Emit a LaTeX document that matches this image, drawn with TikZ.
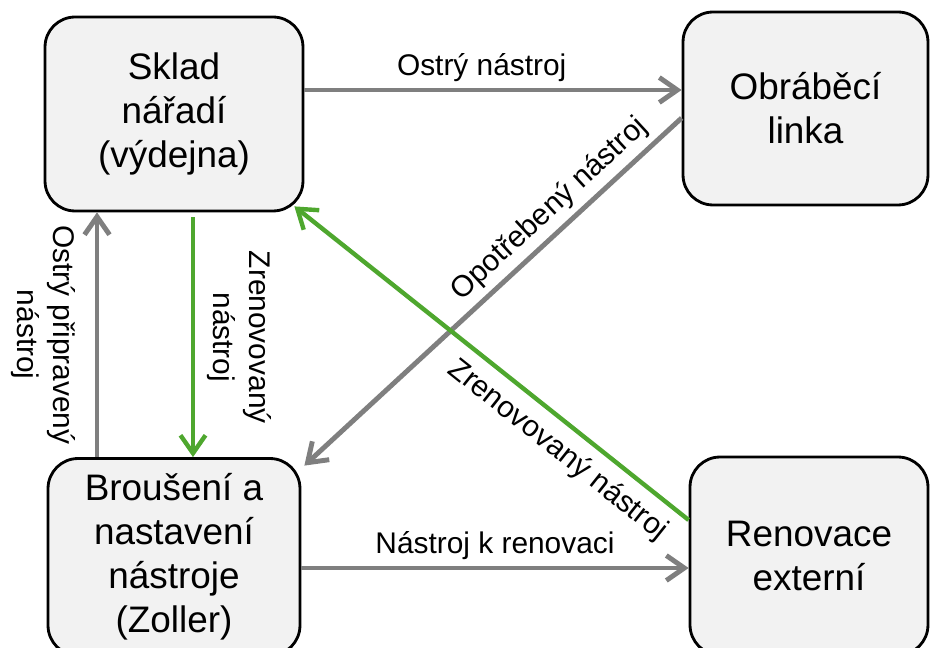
\documentclass[tikz,border=0pt]{standalone}
\usepackage{fontspec}
\setmainfont{Liberation Sans}
\usetikzlibrary{arrows.meta, positioning}

\definecolor{linegray}{RGB}{127,127,127}
\definecolor{linegreen}{RGB}{78,167,46}
\definecolor{boxfill}{RGB}{242,242,242}

\begin{document}
\begin{tikzpicture}[x=0.02cm, y=-0.02cm,
    box/.style={draw, line width=1.6pt, rounded corners=0.6cm, fill=boxfill, align=center, font=\fontsize{21}{25}\selectfont},
    lbl/.style={font=\fontsize{17}{20.5}\selectfont, align=center},
    arr/.style={-{Straight Barb[length=0.36cm, width=0.5cm]}, line width=2.8pt, draw=linegray},
    garr/.style={arr, draw=linegreen, line width=2.5pt}
]
\useasboundingbox (0,0) rectangle (934,648);
\clip (0,0) rectangle (934,648);

\node[box, minimum width=5.16cm, minimum height=3.88cm] (sklad) at (174,114) {Sklad\\nářadí\\(výdejna)};
\node[box, minimum width=4.9cm, minimum height=3.86cm] (linka) at (805.5,108.5) {Obráběcí\\linka};
\node[box, minimum width=5.04cm, minimum height=3.94cm] (brouseni) at (174,557) {Broušení a\\nastavení\\nástroje\\(Zoller)};
\node[box, minimum width=4.76cm, minimum height=3.96cm] (renovace) at (809,556) {Renovace\\externí};

\coordinate (ostry) at ([yshift=0.48cm]sklad.east);
\coordinate (kren) at ([yshift=-0.22cm]brouseni.east);

\draw[arr] (ostry) -- node[lbl, above, pos=0.47] {Ostrý nástroj} (ostry -| linka.west);
\draw[arr] ([yshift=-0.19cm]linka.west) -- node[lbl, above, sloped, pos=0.31] {Opotřebený nástroj} ([xshift=0.06cm, yshift=-0.17cm]brouseni.north east);
\draw[garr] ([yshift=0.72cm]renovace.west) -- node[lbl, below, sloped, pos=0.29, outer sep=0.14cm] {Zrenovovaný nástroj} ([xshift=-0.2cm, yshift=0.12cm]sklad.south east);
\draw[arr] ([xshift=-1.54cm]brouseni.north) -- node[lbl, rotate=-90, anchor=north, outer sep=0.32cm] {Ostrý připravený\\nástroj} ([xshift=-1.54cm]sklad.south);
\draw[garr] ([xshift=0.38cm, yshift=-0.1cm]sklad.south) -- node[lbl, rotate=-90, anchor=south, outer sep=0.16cm] {Zrenovovaný\\nástroj} ([xshift=0.38cm]brouseni.north);
\draw[arr] (kren) -- node[lbl, above] {Nástroj k renovaci} (kren -| renovace.west);
\end{tikzpicture}
\end{document}
